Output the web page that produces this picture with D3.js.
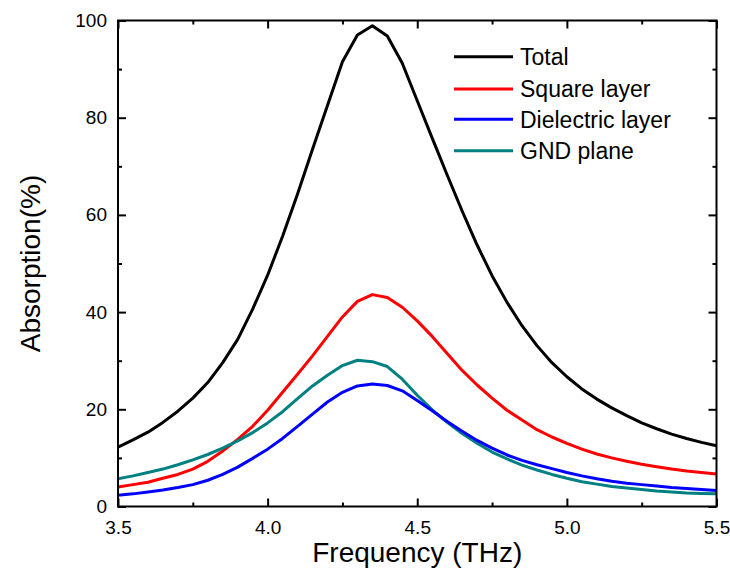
<!DOCTYPE html>
<html><head><meta charset="utf-8">
<script src="https://cdn.jsdelivr.net/npm/d3@7"></script>
<style>html,body{margin:0;padding:0;background:#fff;}</style>
</head><body>
<svg id="chart" width="730" height="584"></svg>
<script>
const frequency = [3.50,3.55,3.60,3.65,3.70,3.75,3.80,3.85,3.90,3.95,4.00,4.05,4.10,4.15,4.20,4.25,4.30,4.35,4.40,4.45,4.50,4.55,4.60,4.65,4.70,4.75,4.80,4.85,4.90,4.95,5.00,5.05,5.10,5.15,5.20,5.25,5.30,5.35,5.40,5.45,5.50];
const total = [12.2,13.7,15.3,17.3,19.6,22.3,25.5,29.6,34.4,40.6,47.6,55.6,64.3,73.5,82.5,91.5,97.0,98.9,96.8,91.2,83.5,75.8,68.2,60.8,53.8,47.5,42.0,37.2,33.1,29.6,26.7,24.2,22.1,20.3,18.7,17.2,16.0,14.9,14.0,13.2,12.5];
const squareLayer = [4.0,4.5,5.0,5.8,6.6,7.7,9.3,11.4,13.8,16.5,19.8,23.5,27.2,31.0,35.0,39.0,42.2,43.6,43.0,41.0,38.2,35.0,31.5,28.0,25.0,22.3,19.8,17.8,15.8,14.3,13.0,11.8,10.8,10.0,9.3,8.7,8.2,7.7,7.3,7.0,6.7];
const dielectricLayer = [2.3,2.6,3.0,3.4,3.9,4.5,5.4,6.6,8.1,9.9,11.8,14.0,16.5,19.0,21.5,23.5,24.8,25.2,24.9,23.8,21.8,19.7,17.5,15.5,13.6,12.0,10.6,9.5,8.6,7.8,7.0,6.3,5.7,5.2,4.8,4.5,4.2,3.9,3.7,3.5,3.3];
const gndPlane = [5.7,6.3,7.0,7.7,8.6,9.6,10.7,12.0,13.5,15.2,17.2,19.5,22.2,24.8,27.0,29.0,30.1,29.8,28.8,26.2,22.9,19.9,17.3,15.0,13.0,11.2,9.8,8.5,7.5,6.6,5.8,5.1,4.6,4.1,3.8,3.5,3.2,3.0,2.8,2.7,2.6];
const seriesNames = ["Total","Square layer","Dielectric layer","GND plane"];
const seriesColors = ["#000000","#ff0000","#0000ff","#008080"];
const xMajorTicks = [3.5,4.0,4.5,5.0,5.5];
const xMinorTicks = [3.75,4.25,4.75,5.25];
const yMajorTicks = [0,20,40,60,80,100];
const yMinorTicks = [10,30,50,70,90];
const xTitle = "Frequency (THz)";
const yTitle = "Absorption(%)";

const seriesValues = [total, squareLayer, dielectricLayer, gndPlane];
const svg = d3.select("#chart");
const L = 118, R = 716.5, T = 20.5, B = 506.5;
const x = d3.scaleLinear().domain([3.5,5.5]).range([L,R]);
const y = d3.scaleLinear().domain([0,100]).range([B,T]);
const font = "Arial, 'Liberation Sans', Helvetica, sans-serif";

const line = d3.line().x(d=>x(d[0])).y(d=>y(d[1]));
svg.append("clipPath").attr("id","clip").append("rect")
  .attr("x",L).attr("y",T).attr("width",R-L).attr("height",B-T);
const g = svg.append("g").attr("clip-path","url(#clip)");
[0,1,3,2].forEach(i=>{
  g.append("path").datum(frequency.map((f,k)=>[f,seriesValues[i][k]]))
   .attr("d",line).attr("fill","none").attr("stroke",seriesColors[i])
   .attr("stroke-width",3).attr("stroke-linejoin","round");
});

function axisTicks(axisGen, transform){
  const a = svg.append("g").attr("transform",transform).call(axisGen);
  a.select(".domain").remove();
  a.selectAll("line").attr("stroke","#000").attr("stroke-width",2);
  return a;
}
axisTicks(d3.axisBottom(x).tickValues(xMajorTicks).tickSize(-8).tickPadding(14).tickFormat(d3.format(".1f")), `translate(0,${B})`)
  .selectAll("text").attr("font-family",font).attr("font-size",19).attr("fill","#000");
axisTicks(d3.axisBottom(x).tickValues(xMinorTicks).tickSize(-4).tickFormat(""), `translate(0,${B})`);
axisTicks(d3.axisTop(x).tickValues(xMajorTicks).tickSize(-8).tickFormat(""), `translate(0,${T})`);
axisTicks(d3.axisTop(x).tickValues(xMinorTicks).tickSize(-4).tickFormat(""), `translate(0,${T})`);
axisTicks(d3.axisLeft(y).tickValues(yMajorTicks).tickSize(-8).tickPadding(11).tickFormat(d3.format("d")), `translate(${L},0)`)
  .selectAll("text").attr("font-family",font).attr("font-size",19).attr("fill","#000");
axisTicks(d3.axisLeft(y).tickValues(yMinorTicks).tickSize(-4).tickFormat(""), `translate(${L},0)`);
axisTicks(d3.axisRight(y).tickValues(yMajorTicks).tickSize(-8).tickFormat(""), `translate(${R},0)`);
axisTicks(d3.axisRight(y).tickValues(yMinorTicks).tickSize(-4).tickFormat(""), `translate(${R},0)`);

svg.append("rect").attr("x",L).attr("y",T).attr("width",R-L).attr("height",B-T)
  .attr("fill","none").attr("stroke","#000").attr("stroke-width",2);

svg.append("text").attr("x",(L+R)/2).attr("y",562).attr("text-anchor","middle")
  .attr("font-family",font).attr("font-size",28).text(xTitle);
svg.append("text").attr("transform",`translate(40,${(T+B)/2}) rotate(-90)`).attr("text-anchor","middle")
  .attr("font-family",font).attr("font-size",28).text(yTitle);

const legY = [56.7, 89, 119.3, 150.7];
seriesNames.forEach((n,i)=>{
  svg.append("line").attr("x1",454).attr("x2",513).attr("y1",legY[i]).attr("y2",legY[i])
    .attr("stroke",seriesColors[i]).attr("stroke-width",3);
  svg.append("text").attr("x",520).attr("y",legY[i]).attr("dy","0.36em")
    .attr("font-family",font).attr("font-size",23).text(n);
});
</script>
</body></html>
